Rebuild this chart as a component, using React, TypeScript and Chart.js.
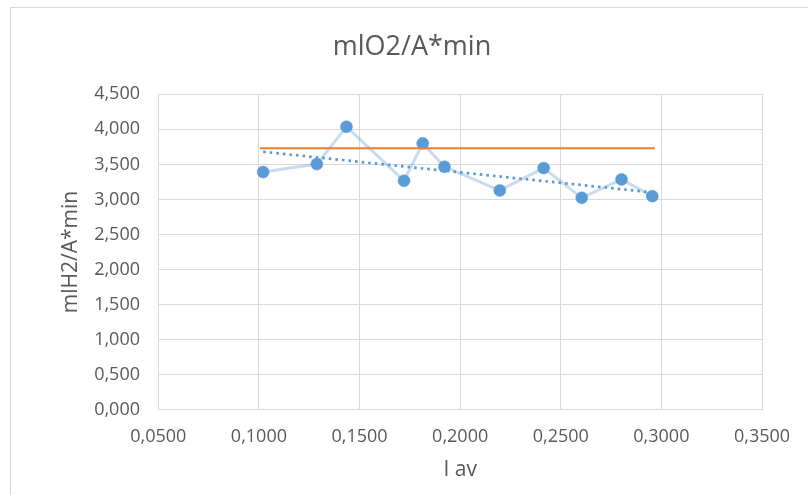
import React, { useEffect, useRef } from "react";
import { Chart, registerables } from "chart.js";

Chart.register(...registerables);

const chartTitle = "mlO2/A*min";
const xAxisTitle = "I av";
const yAxisTitle = "mlH2/A*min";

const xValues = [0.1021, 0.1288, 0.1435, 0.1721, 0.1814, 0.1922, 0.2197, 0.2415, 0.2604, 0.2802, 0.2955];
const yValues = [3.39, 3.504, 4.037, 3.266, 3.8, 3.466, 3.129, 3.447, 3.023, 3.286, 3.047];

const refX = [0.1005, 0.2967];
const refY = [3.73, 3.73];

const trendX = [0.1021, 0.2955];
const trendY = [3.68, 3.1];

const xTicks = [0.05, 0.1, 0.15, 0.2, 0.25, 0.3, 0.35];
const yTicks = [0, 0.5, 1, 1.5, 2, 2.5, 3, 3.5, 4, 4.5];

const FONT = "'Open Sans', 'Liberation Sans', sans-serif";
const TEXT = "#595959";
const GRID = "#d9d9d9";
const BLUE = "#5b9bd5";
const ORANGE = "#ed7d31";

export default function App() {
  const ref = useRef<HTMLCanvasElement | null>(null);

  useEffect(() => {
    if (!ref.current) return;
    const chart = new Chart(ref.current, {
      type: "scatter",
      data: {
        datasets: [
          {
            label: "ref",
            data: refX.map((x, i) => ({ x, y: refY[i] })),
            showLine: true,
            borderColor: ORANGE,
            borderWidth: 1.8,
            pointRadius: 0,
            yAxisID: "y",
            order: 1,
          },
          {
            label: "trend",
            data: trendX.map((x, i) => ({ x, y: trendY[i] })),
            showLine: true,
            borderColor: BLUE,
            borderWidth: 2.7,
            borderDash: [2.6, 4],
            pointRadius: 0,
            yAxisID: "y",
            order: 0,
          },
          {
            label: "data",
            data: xValues.map((x, i) => ({ x, y: yValues[i] })),
            showLine: true,
            borderColor: "rgba(91,155,213,0.35)",
            borderWidth: 3,
            pointRadius: 6,
            pointBackgroundColor: BLUE,
            pointBorderColor: BLUE,
            pointBorderWidth: 0.5,
            yAxisID: "y",
            order: 2,
          },
        ],
      },
      options: {
        responsive: false,
        animation: false,
        devicePixelRatio: 1,
        layout: { padding: 0 },
        plugins: {
          legend: { display: false },
          tooltip: { enabled: false },
          title: {
            display: true,
            text: chartTitle,
            color: TEXT,
            font: { family: FONT, size: 27, weight: "normal" },
            padding: { top: 30.8, bottom: 31.1 },
          },
        },
        scales: {
          x: {
            type: "linear",
            position: "bottom",
            min: 0.05,
            max: 0.35,
            afterBuildTicks: (s: any) => {
              s.ticks = xTicks.map((v) => ({ value: v }));
            },
            afterFit: (s: any) => {
              s.height = 85.3;
            },
            ticks: {
              autoSkip: false,
              maxRotation: 0,
              padding: 16.8,
              color: TEXT,
              font: { family: FONT, size: 18 },
              callback: (v: any) => Number(v).toFixed(4).replace(".", ","),
            },
            grid: { color: GRID, lineWidth: 1, drawTicks: false },
            border: { color: GRID, width: 1 },
            title: {
              display: true,
              text: xAxisTitle,
              color: TEXT,
              font: { family: FONT, size: 21 },
              padding: { top: 0, bottom: 12.4 },
            },
          },
          y: {
            type: "linear",
            position: "left",
            min: 0,
            max: 4.5,
            afterBuildTicks: (s: any) => {
              s.ticks = yTicks.map((v) => ({ value: v }));
            },
            afterFit: (s: any) => {
              s.width = 142.3;
            },
            ticks: {
              autoSkip: false,
              padding: 18.3,
              color: TEXT,
              font: { family: FONT, size: 18 },
              callback: (v: any) => Number(v).toFixed(3).replace(".", ","),
            },
            grid: { color: GRID, lineWidth: 1, drawTicks: false },
            border: { color: GRID, width: 1 },
            title: {
              display: true,
              text: yAxisTitle,
              color: TEXT,
              font: { family: FONT, size: 21 },
              padding: { top: 42.4, bottom: 0 },
            },
          },
          y2: {
            type: "linear",
            axis: "y",
            position: "right",
            display: true,
            min: 0,
            max: 1,
            afterFit: (s: any) => {
              s.width = 46;
            },
            ticks: { display: false },
            grid: { display: false, drawTicks: false },
            border: { display: false },
            title: { display: false },
          },
        },
      } as any,
    });
    return () => chart.destroy();
  }, []);

  return (
    <>
      <div
        style={{
          position: "absolute",
          left: 10,
          top: 7,
          width: 797,
          height: 487,
          borderLeft: "1px solid #d9d9d9",
          borderTop: "1px solid #d9d9d9",
        }}
      />
      <canvas
        ref={ref}
        width={792}
        height={495}
        style={{ position: "absolute", left: 16, top: 0, width: 792, height: 495 }}
      />
    </>
  );
}
